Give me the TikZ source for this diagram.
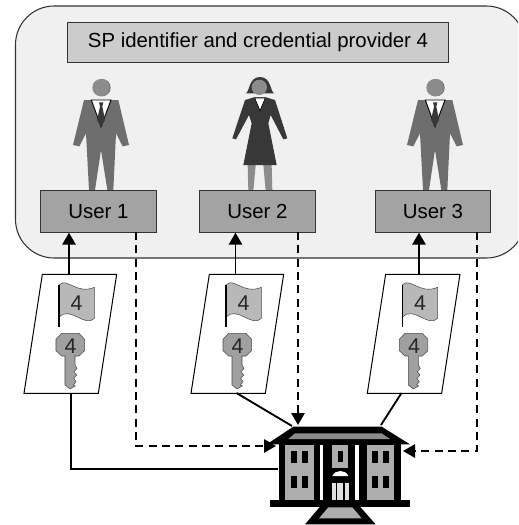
\documentclass[tikz,border=0pt]{standalone}
\usepackage{fontspec}
\setmainfont{Liberation Sans}
\usetikzlibrary{arrows.meta}
\definecolor{panelc}{HTML}{F0F0F0}
\definecolor{titlec}{HTML}{CCCCCC}
\definecolor{userc}{HTML}{A3A3A3}
\definecolor{suitc}{HTML}{6E6E6E}
\definecolor{headc}{HTML}{8C8C8C}
\definecolor{darkc}{HTML}{383838}
\definecolor{flagc}{HTML}{B8B8B8}
\definecolor{keyc}{HTML}{A0A0A0}
\definecolor{lineg}{HTML}{333333}
\tikzset{
  labelbox/.style={draw=lineg,line width=0.8pt,align=center,inner sep=0pt,font=\fontsize{15.3}{18}\selectfont},
  userbox/.style={labelbox,fill=userc,minimum width=86.5pt,minimum height=31pt},
  solidarrow/.style={line width=1.4pt,-{Triangle[length=9pt,width=10pt]}},
  dasharrow/.style={solidarrow,dash pattern=on 6pt off 4pt},
  solidline/.style={line width=1.4pt},
  cardshape/.style={draw=black,fill=white,line width=0.75pt},
  glyph/.style={font=\fontsize{16}{18}\selectfont,text=black!85,inner sep=0pt}
}
\newcommand{\mancmd}[2]{%
\begin{scope}[shift={(#1,#2)},scale=1/3]
  \fill[headc!80!black] (3,53) circle (26);
  \fill[headc] (0,53) circle (26);
  \fill[suitc] (-51,90) -- (52,90) -- (84,225) -- (65,229) -- (45,190) -- (37,360) -- (19,360) -- (0,240) -- (-18,360) -- (-36,360) -- (-45,190) -- (-65,229) -- (-84,225) -- cycle;
  \draw[fill=white,line width=0.7pt] (-29,90) -- (30,90) -- (0,170) -- cycle;
  \fill[darkc] (-6,97) -- (7,97) -- (4,110) -- (12,150) -- (0,170) -- (-12,150) -- (-3,110) -- cycle;
\end{scope}}
\newcommand{\cardcmd}[2]{%
\begin{scope}[shift={(#1,230)},scale=1/3]
  \draw[cardshape] (97,133) -- (320,133) -- (265,490) -- (42,490) -- cycle;
  \draw[fill=flagc,draw=black!70,line width=0.4pt] (147,165) .. controls (170,140) and (200,195) .. (253,172) -- (253,265) .. controls (225,295) and (180,225) .. (147,262) -- cycle;
  \draw[line width=1.1pt] (147,165) -- (147,291);
  \node[glyph] (#2f) at (200,218) {4};
  \draw[fill=keyc,draw=black!70,line width=0.4pt] (155,310) -- (207,310) -- (224,328) -- (224,362) -- (207,378) -- (195,378) -- (195,405) -- (201,415) -- (192,425) -- (200,435) -- (191,445) -- (198,455) -- (190,465) -- (196,468) -- (180,477) -- (165,465) -- (165,378) -- (155,378) -- (138,362) -- (138,328) -- cycle;
  \node[glyph] (#2k) at (182,348) {4};
\end{scope}}
\begin{document}
\begin{tikzpicture}[x=0.75pt,y=-0.75pt]
\useasboundingbox (0,0) rectangle (518,525);
\clip (0,0) rectangle (518,525);
\draw[fill=panelc,draw=lineg,line width=0.8pt,rounded corners=29pt] (15.5,6) rectangle (525,258);
\node[labelbox,fill=titlec,minimum width=286pt,minimum height=30.5pt] (title) at (258,42.5) {SP identifier and credential provider 4};
\mancmd{101}{70}
\begin{scope}[shift={(50,70)},scale=1/3]
  \fill[darkc] (588,70) .. controls (600,62) and (596,22) .. (630,21) .. controls (664,22) and (660,62) .. (672,70) -- cycle;
  \fill[headc] (628,52) circle (23);
  \fill[headc] (593,285) -- (617,285) -- (610,362) -- (595,362) -- cycle;
  \fill[headc] (640,285) -- (665,285) -- (667,362) -- (647,362) -- cycle;
  \fill[darkc] (612,82) -- (648,82) -- (675,90) -- (712,205) -- (700,208) -- (662,135) -- (655,160) -- (680,285) -- (580,285) -- (605,160) -- (597,135) -- (558,208) -- (547,205) -- (585,90) -- cycle;
  \draw[fill=white,draw=black,line width=0.5pt] (614,84) -- (646,84) -- (630,122) -- cycle;
\end{scope}
\mancmd{435}{70}
\node[userbox] (u1) at (98.5,211.5) {User 1};
\node[userbox] (u2) at (257.5,211.5) {User 2};
\node[userbox] (u3) at (433,211.5) {User 3};
\cardcmd{10}{one}
\cardcmd{177}{two}
\cardcmd{353.3}{three}
\coordinate (c1top) at (69,274);
\coordinate (c2top) at (235.5,274);
\coordinate (c3top) at (419,274);
\coordinate (c1bot) at (71,393);
\coordinate (c2bot) at (236.5,393);
\coordinate (c3bot) at (401.5,393);
\coordinate (bleft) at (278,469);
\coordinate (bleftd) at (276,446);
\coordinate (btop) at (298,425);
\coordinate (btopl) at (292,426);
\coordinate (btopr) at (381,425);
\coordinate (bright) at (403,451);
\coordinate (d1) at (136,232);
\coordinate (d2) at (298,232);
\coordinate (d3) at (477,232);
\draw[solidarrow] (c1top) -- (u1.south -| c1top);
\draw[solidarrow] (c2top) -- (u2.south -| c2top);
\draw[solidarrow] (c3top) -- (u3.south -| c3top);
\draw[dasharrow] (d1) -- (d1 |- bleftd) -- (bleftd);
\draw[dasharrow] (d2) -- (btop);
\draw[dasharrow] (d3) -- (d3 |- bright) -- (bright);
\draw[solidline] (c1bot) -- (c1bot |- bleft) -- (bleft);
\draw[solidline] (c2bot) -- (btopl);
\draw[solidline] (c3bot) -- (btopr);
\begin{scope}[shift={(260,410)},scale=1/3]
  \fill[black] (100,50) -- (365,50) -- (450,103) -- (20,103) -- cycle;
  \fill[black!45] (105,70) -- (365,70) -- (390,87) -- (85,87) -- cycle;
  \fill[black] (57,100) rectangle (422,270);
  \fill[black!32] (75,105) rectangle (162,270);
  \fill[black!32] (320,105) rectangle (403,270);
  \fill[white] (180,105) rectangle (190,270);
  \fill[white] (285,105) rectangle (297,270);
  \fill[black!32] (215,105) rectangle (265,190);
  \foreach \wx/\wy in {93/123,127/123,93/198,127/198,336/123,370/123,336/198,370/198}
    \fill[black] (\wx,\wy) rectangle ++(17,37);
  \fill[black] (233,123) rectangle (250,157);
  \fill[black] (205,175) rectangle (278,215);
  \fill[white] (217,198) .. controls (225,178) and (257,178) .. (265,198) -- cycle;
  \fill[black!12] (217,218) rectangle (267,270);
  \fill[black] (227,218) rectangle (232,270);
  \fill[black] (250,218) rectangle (255,270);
  \fill[black] (30,270) rectangle (450,290);
  \fill[black] (180,290) -- (300,290) -- (347,343) -- (135,343) -- cycle;
  \fill[black!32] (205,292) -- (277,292) -- (305,325) -- (177,325) -- cycle;
\end{scope}
\end{tikzpicture}
\end{document}
